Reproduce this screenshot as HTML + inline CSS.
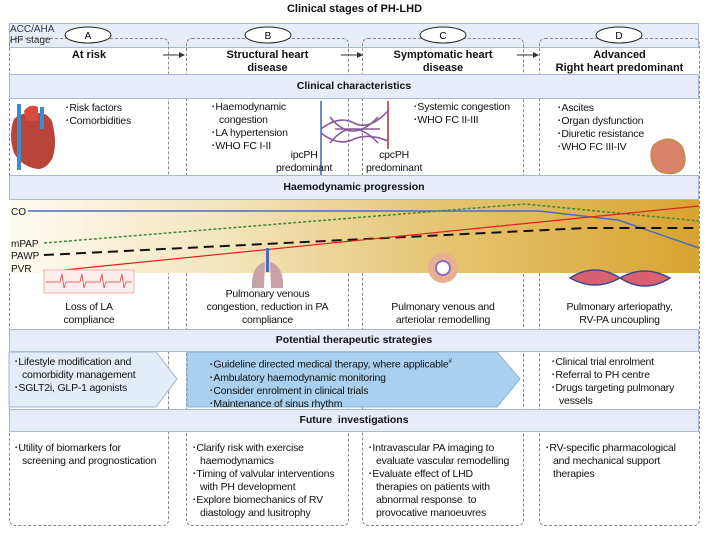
<!DOCTYPE html>
<html><head><meta charset="utf-8"><style>
body{margin:0;width:709px;height:536px;background:#fff;font-family:"Liberation Sans",sans-serif;color:#111;position:relative;overflow:hidden}
.a{position:absolute}
.col{position:absolute;top:38px;height:488px;border:1px dashed #888;border-radius:6px;box-sizing:border-box}
.band{position:absolute;left:9px;width:690px;background:#e6edf8;border:1px solid #a7b9d9;font-weight:bold;font-size:10.5px;text-align:center;box-sizing:border-box}
.t{font-size:10.5px;line-height:13px;letter-spacing:-0.2px}
.h{font-size:11px;font-weight:bold;text-align:center;line-height:13px}
ul{margin:0;padding:0;list-style:none}
li{padding-left:7px;text-indent:-7px}
li:before{content:"▪ ";font-size:6px;vertical-align:2px}
.c{text-align:center}
</style></head><body>
<div class="a h" style="left:0;width:709px;top:3px">Clinical stages of PH-LHD</div>
<div class="band" style="top:23px;height:25px"></div>
<div class="col" style="left:9px;width:160px"></div>
<div class="col" style="left:186px;width:163px"></div>
<div class="col" style="left:362px;width:162px"></div>
<div class="col" style="left:539px;width:161px"></div>
<div class="a" style="left:10px;top:24px;font-size:10px;line-height:11px;color:#333">ACC/AHA<br>HF stage</div>
<svg class="a" style="left:0;top:0" width="709" height="74">
<g fill="#fff" stroke="#222" stroke-width="1"><ellipse cx="88" cy="35" rx="23" ry="8"/><ellipse cx="268" cy="35" rx="23" ry="8"/><ellipse cx="443" cy="35" rx="23" ry="8"/><ellipse cx="619" cy="35" rx="23" ry="8"/></g>
<g font-size="10" text-anchor="middle" font-family="Liberation Sans"><text x="88" y="39">A</text><text x="268" y="39">B</text><text x="443" y="39">C</text><text x="619" y="39">D</text></g>
<g stroke="#333" stroke-width="1"><line x1="163" y1="55" x2="180" y2="55"/><line x1="341" y1="55" x2="358" y2="55"/><line x1="517" y1="55" x2="534" y2="55"/></g>
<g fill="#333"><path d="M185,55 l-6,-3 v6z"/><path d="M363,55 l-6,-3 v6z"/><path d="M539,55 l-6,-3 v6z"/></g>
</svg>
<div class="a h" style="left:9px;width:160px;top:49px">At risk</div>
<div class="a h" style="left:186px;width:163px;top:49px">Structural heart<br>disease</div>
<div class="a h" style="left:362px;width:162px;top:49px">Symptomatic heart<br>disease</div>
<div class="a h" style="left:539px;width:161px;top:49px">Advanced<br>Right heart predominant</div>
<div class="band" style="top:74px;height:25px;line-height:23px">Clinical characteristics</div>
<svg class="a" style="left:0;top:99px" width="709" height="76">
<path d="M14,20 q8,-8 20,-4 q10,-6 18,6 q6,24 0,38 q-6,10 -14,10 q-16,-2 -24,-16 q-6,-18 0,-34z" fill="#b8443a"/>
<path d="M24,12 q6,-8 14,-4 v14 h-12z" fill="#d84a3e"/>
<rect x="17" y="5" width="4" height="66" fill="#3a8ed0"/><rect x="40" y="8" width="4" height="22" fill="#3a8ed0"/>
<g fill="none" stroke-width="1.6"><path d="M321,2 v80" stroke="#4a6cc0"/><path d="M388,2 v48" stroke="#b03a3a"/>
<path d="M321,30 q18,-14 33,-6 q15,8 34,-12" stroke="#8a5a9a"/><path d="M321,34 q18,14 33,6 q15,-6 34,2" stroke="#8a5a9a"/><path d="M330,18 q22,28 48,0" stroke="#8a5a9a"/><path d="M330,44 q22,-28 48,0" stroke="#8a5a9a"/><path d="M335,30 h45" stroke="#8a5a9a"/></g>
<path d="M654,46 q16,-12 28,2 q8,22 -8,26 q-18,2 -22,-12 q-2,-10 2,-16z" fill="#d9826a" stroke="#c98a50" stroke-width="2"/>
</svg>
<div class="a t" style="left:66px;top:102px"><ul><li>Risk factors</li><li>Comorbidities</li></ul></div>
<div class="a t" style="left:212px;top:101px;width:110px"><ul><li>Haemodynamic<br>congestion</li><li>LA hypertension</li><li>WHO FC I-II</li></ul></div>
<div class="a t c" style="left:276px;top:149px">ipcPH<br>predominant</div>
<div class="a t c" style="left:366px;top:149px">cpcPH<br>predominant</div>
<div class="a t" style="left:414px;top:101px"><ul><li>Systemic congestion</li><li>WHO FC II-III</li></ul></div>
<div class="a t" style="left:558px;top:102px"><ul><li>Ascites</li><li>Organ dysfunction</li><li>Diuretic resistance</li><li>WHO FC III-IV</li></ul></div>
<div class="band" style="top:175px;height:25px;line-height:23px">Haemodynamic progression</div>
<div class="a" style="left:9px;top:200px;width:690px;height:73px;background:linear-gradient(90deg,#fdfbf1 0%,#f3e6bf 30%,#e6c777 60%,#d9a331 100%)"></div>
<svg class="a" style="left:0;top:200px" width="709" height="95">
<polyline points="28,11 539,11 618,20 699,48" fill="none" stroke="#4a6cc0" stroke-width="1.5"/>
<polyline points="44,43 525,4 699,21" fill="none" stroke="#3a8a3a" stroke-width="1.5" stroke-dasharray="3,2"/>
<polyline points="44,55 586,28 699,28" fill="none" stroke="#111" stroke-width="2" stroke-dasharray="10,6"/>
<line x1="44" y1="72" x2="699" y2="6" stroke="#e02020" stroke-width="1.2"/>
<g font-size="10" font-family="Liberation Sans" fill="#111"><text x="11" y="15">CO</text><text x="11" y="47">mPAP</text><text x="11" y="59">PAWP</text><text x="11" y="72">PVR</text></g>
<rect x="44" y="70" width="90" height="23" fill="#fdeeee" stroke="#f2b0b0"/>
<polyline points="46,82 60,82 62,74 64,88 66,82 80,82 82,74 84,88 86,82 100,82 102,74 104,88 106,82 120,82 122,74 124,88 126,82 132,82" fill="none" stroke="#e04040" stroke-width="0.8"/>
<rect x="266" y="48" width="3" height="24" fill="#4a6cc0"/>
<path d="M265,62 q-14,4 -13,26 h12z M270,62 q14,4 13,26 h-12z" fill="#c7a0a8"/>
<circle cx="443" cy="68" r="15" fill="#e8b090"/><circle cx="443" cy="68" r="7" fill="#fff" stroke="#8a70c0" stroke-width="2"/>
<path d="M570,78 q25,-16 50,0 q25,16 50,0 q-25,-14 -50,0 q-25,14 -50,0z" fill="#d86070" stroke="#3a4a90" stroke-width="1.5"/>
</svg>
<div class="a t c" style="left:9px;width:160px;top:301px">Loss of LA<br>compliance</div>
<div class="a t c" style="left:186px;width:163px;top:288px">Pulmonary venous<br>congestion, reduction in PA<br>compliance</div>
<div class="a t c" style="left:362px;width:162px;top:301px">Pulmonary venous and<br>arteriolar remodelling</div>
<div class="a t c" style="left:539px;width:161px;top:301px">Pulmonary arteriopathy,<br>RV-PA uncoupling</div>
<div class="band" style="top:329px;height:23px;line-height:21px">Potential therapeutic strategies</div>
<svg class="a" style="left:0;top:352px" width="709" height="58">
<path d="M9,0 H156 L177,27 L156,55 H9z" fill="#e4ecf8" stroke="#9fb3d6"/>
<path d="M187,0 H497 L520,27 L497,55 H187z" fill="#a9d0ee" stroke="#7fb3de"/>
</svg>
<div class="a t" style="left:15px;top:356px"><ul><li>Lifestyle modification and<br>comorbidity management</li><li>SGLT2i, GLP-1 agonists</li></ul></div>
<div class="a t" style="left:210px;top:356px"><ul><li>Guideline directed medical therapy, where applicable<sup style="font-size:6px">#</sup></li><li>Ambulatory haemodynamic monitoring</li><li>Consider enrolment in clinical trials</li><li>Maintenance of sinus rhythm</li></ul></div>
<div class="a t" style="left:552px;top:356px"><ul><li>Clinical trial enrolment</li><li>Referral to PH centre</li><li>Drugs targeting pulmonary<br>vessels</li></ul></div>
<div class="band" style="top:409px;height:23px;line-height:21px">Future &nbsp;investigations</div>
<div class="a t" style="left:15px;top:442px"><ul><li>Utility of biomarkers for<br>screening and prognostication</li></ul></div>
<div class="a t" style="left:193px;top:442px"><ul><li>Clarify risk with exercise<br>haemodynamics</li><li>Timing of valvular interventions<br>with PH development</li><li>Explore biomechanics of RV<br>diastology and lusitrophy</li></ul></div>
<div class="a t" style="left:369px;top:442px"><ul><li>Intravascular PA imaging to<br>evaluate vascular remodelling</li><li>Evaluate effect of LHD<br>therapies on patients with<br>abnormal response &nbsp;to<br>provocative manoeuvres</li></ul></div>
<div class="a t" style="left:546px;top:442px"><ul><li>RV-specific pharmacological<br>and mechanical support<br>therapies</li></ul></div>
</body></html>
